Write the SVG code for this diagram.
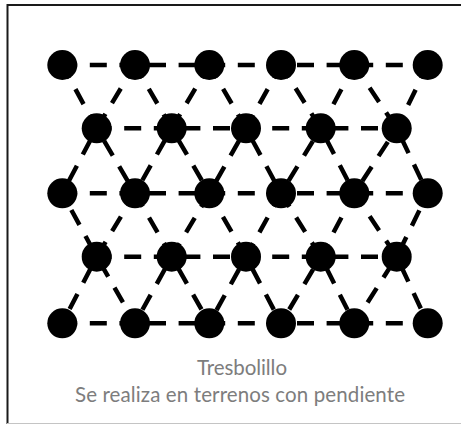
<svg xmlns="http://www.w3.org/2000/svg" width="461" height="425" viewBox="0 0 461 425">
<style>
.c{stroke:#000;stroke-width:4.5;fill:none;stroke-dasharray:17 12.6;stroke-dashoffset:2.1}
.c3{stroke-dashoffset:10.6}
.d{fill:#000}
.t{font-family:Lato,"Open Sans","Liberation Sans",sans-serif;font-size:20.5px;fill:#7d7d7d;text-anchor:middle}
</style>
<rect width="461" height="425" fill="#fff"/>
<g id="frame">
<path d="M7.5 424 V5 H461" fill="none" stroke="#1a1a1a" stroke-width="2"/>
<line x1="7" y1="423.5" x2="461" y2="423.5" stroke="#c4c4c4" stroke-width="1"/>
</g>
<g id="connectors">
<line class="c" x1="62.3" y1="65" x2="427.7" y2="65"/>
<line class="c" x1="96.7" y1="128.3" x2="396.7" y2="128.3"/>
<line class="c" x1="62.3" y1="193.3" x2="427.7" y2="193.3"/>
<line class="c" x1="96.7" y1="256.7" x2="396.7" y2="256.7"/>
<line class="c" x1="62.3" y1="323.3" x2="427.7" y2="323.3"/>
<polyline class="c" points="62.3,65 96.7,128.3 135,193.3 171.7,256.7 209.3,323.3"/>
<polyline class="c" points="135,65 171.7,128.3 209.3,193.3 246,256.7 281,323.3"/>
<polyline class="c" points="209.3,65 246,128.3 281,193.3 320.7,256.7 354.3,323.3"/>
<polyline class="c" points="281,65 320.7,128.3 354.3,193.3 396.7,256.7 427.7,323.3"/>
<polyline class="c" points="354.3,65 396.7,128.3 427.7,193.3"/>
<polyline class="c c3" points="62.3,193.3 96.7,256.7 135,323.3"/>
<polyline class="c" points="135,65 96.7,128.3 62.3,193.3"/>
<polyline class="c" points="209.3,65 171.7,128.3 135,193.3 96.7,256.7 62.3,323.3"/>
<polyline class="c" points="281,65 246,128.3 209.3,193.3 171.7,256.7 135,323.3"/>
<polyline class="c" points="354.3,65 320.7,128.3 281,193.3 246,256.7 209.3,323.3"/>
<polyline class="c" points="427.7,65 396.7,128.3 354.3,193.3 320.7,256.7 281,323.3"/>
<polyline class="c c3" points="427.7,193.3 396.7,256.7 354.3,323.3"/>
</g>
<g id="row1">
<circle id="n1-1" class="d" cx="62.3" cy="65" r="15"/>
<circle id="n1-2" class="d" cx="135" cy="65" r="15"/>
<circle id="n1-3" class="d" cx="209.3" cy="65" r="15"/>
<circle id="n1-4" class="d" cx="281" cy="65" r="15"/>
<circle id="n1-5" class="d" cx="354.3" cy="65" r="15"/>
<circle id="n1-6" class="d" cx="427.7" cy="65" r="15"/>
</g>
<g id="row2">
<circle id="n2-1" class="d" cx="96.7" cy="128.3" r="15"/>
<circle id="n2-2" class="d" cx="171.7" cy="128.3" r="15"/>
<circle id="n2-3" class="d" cx="246" cy="128.3" r="15"/>
<circle id="n2-4" class="d" cx="320.7" cy="128.3" r="15"/>
<circle id="n2-5" class="d" cx="396.7" cy="128.3" r="15"/>
</g>
<g id="row3">
<circle id="n3-1" class="d" cx="62.3" cy="193.3" r="15"/>
<circle id="n3-2" class="d" cx="135" cy="193.3" r="15"/>
<circle id="n3-3" class="d" cx="209.3" cy="193.3" r="15"/>
<circle id="n3-4" class="d" cx="281" cy="193.3" r="15"/>
<circle id="n3-5" class="d" cx="354.3" cy="193.3" r="15"/>
<circle id="n3-6" class="d" cx="427.7" cy="193.3" r="15"/>
</g>
<g id="row4">
<circle id="n4-1" class="d" cx="96.7" cy="256.7" r="15"/>
<circle id="n4-2" class="d" cx="171.7" cy="256.7" r="15"/>
<circle id="n4-3" class="d" cx="246" cy="256.7" r="15"/>
<circle id="n4-4" class="d" cx="320.7" cy="256.7" r="15"/>
<circle id="n4-5" class="d" cx="396.7" cy="256.7" r="15"/>
</g>
<g id="row5">
<circle id="n5-1" class="d" cx="62.3" cy="323.3" r="15"/>
<circle id="n5-2" class="d" cx="135" cy="323.3" r="15"/>
<circle id="n5-3" class="d" cx="209.3" cy="323.3" r="15"/>
<circle id="n5-4" class="d" cx="281" cy="323.3" r="15"/>
<circle id="n5-5" class="d" cx="354.3" cy="323.3" r="15"/>
<circle id="n5-6" class="d" cx="427.7" cy="323.3" r="15"/>
</g>
<g id="caption">
<text class="t" x="242" y="374.5" textLength="90" lengthAdjust="spacing">Tresbolillo</text>
<text class="t" x="240" y="401.5" textLength="330" lengthAdjust="spacing">Se realiza en terrenos con pendiente</text>
</g>
</svg>
